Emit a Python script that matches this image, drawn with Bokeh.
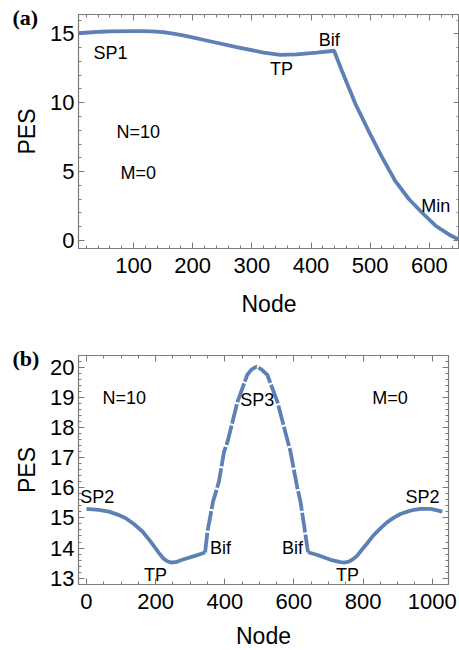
from bokeh.plotting import figure
from bokeh.models import LinearAxis, FixedTicker, Label, Range1d, Title
from bokeh.layouts import column
from bokeh.embed import file_html
from bokeh.resources import INLINE

CURVE = "#5E81B5"
FRAME = "#7a7a7a"
FONT = "Liberation Sans"

# ---------------- Panel (a) data ----------------
a_node = [7, 45, 60, 100, 116, 130, 150, 167, 184, 229, 274, 320, 348, 376, 410, 439,
          452, 475, 497, 520, 542, 565, 587, 610, 633, 651]
a_pes = [15.04, 15.15, 15.17, 15.20, 15.19, 15.17, 15.12, 15.01, 14.88, 14.46, 14.03,
         13.64, 13.47, 13.50, 13.63, 13.77,
         12.34, 9.92, 7.98, 6.05, 4.35, 3.03, 2.05, 1.09, 0.44, 0.04]
a_xticks = [100, 200, 300, 400, 500, 600]
a_yticks = [0, 5, 10, 15]
a_labels = ["SP1", "TP", "Bif", "N=10", "M=0", "Min"]
a_lab_x = [61, 350, 431, 108, 108, 611]
a_lab_y = [13.64, 12.48, 14.55, 7.84, 4.93, 2.47]

# ---------------- Panel (b) data ----------------
b_node_1 = [0, 35, 65, 90, 114, 138, 162, 185, 200, 212, 224, 234, 244, 258, 277,
            316, 343]
b_pes_1 = [15.30, 15.27, 15.21, 15.11, 14.99, 14.79, 14.55, 14.22, 13.99, 13.80,
           13.64, 13.56, 13.52, 13.53, 13.61, 13.75, 13.85]
b_node_2 = [343, 350, 366, 383, 398, 408, 437, 465, 478, 492, 506, 523, 552,
            581, 590, 610, 619, 629, 639, 641]
b_pes_2 = [13.85, 14.55, 15.54, 16.20, 17.20, 17.53, 18.86, 19.75, 19.93, 20.02,
           19.93, 19.75, 18.86, 17.59, 17.20, 15.99, 15.54, 14.77, 14.00, 13.86]
b_node_3 = [641, 668, 706, 735, 747, 759, 771, 783, 797, 812, 830, 851, 870, 889,
            908, 928, 947, 966, 995, 1012, 1029]
b_pes_3 = [13.86, 13.77, 13.61, 13.53, 13.52, 13.55, 13.63, 13.75, 13.95, 14.16,
           14.42, 14.66, 14.86, 15.01, 15.13, 15.21, 15.27, 15.30, 15.30, 15.26, 15.21]
b_xticks = [0, 200, 400, 600, 800, 1000]
b_yticks = [13, 14, 15, 16, 17, 18, 19, 20]
b_labels = ["N=10", "SP3", "M=0", "SP2", "SP2", "Bif", "Bif", "TP", "TP"]
b_lab_x = [109, 494, 878, 31, 972, 388, 596, 200, 755]
b_lab_y = [18.98, 18.90, 18.98, 15.71, 15.71, 14.00, 14.00, 13.10, 13.10]


def style_axis(ax, major, minor, show_labels):
    ax.ticker = FixedTicker(ticks=major, minor_ticks=minor)
    ax.axis_line_color = FRAME
    ax.axis_line_width = 1.2
    ax.major_tick_line_color = FRAME
    ax.minor_tick_line_color = FRAME
    ax.major_tick_in = 6
    ax.major_tick_out = 0
    ax.minor_tick_in = 3
    ax.minor_tick_out = 0
    if show_labels:
        ax.major_label_text_font = FONT
        ax.major_label_text_font_size = "22px"
        ax.major_label_text_color = "black"
        ax.axis_label_text_font = FONT
        ax.axis_label_text_font_size = "23px"
        ax.axis_label_text_font_style = "normal"
        ax.axis_label_text_color = "black"
    else:
        ax.major_label_text_font_size = "0px"
        ax.major_label_text_color = None
        ax.major_label_standoff = 0


def make_panel(xr, yr, fw, fh, bl, br, bt, bb, xmaj, xmin, ymaj, ymin, tag, xlab_so):
    p = figure(frame_width=fw, frame_height=fh,
               x_range=Range1d(*xr), y_range=Range1d(*yr),
               output_backend="svg", toolbar_location=None,
               min_border_left=bl, min_border_right=br,
               min_border_top=bt, min_border_bottom=bb,
               x_axis_label="Node", y_axis_label="PES")
    p.title = Title(text=tag, align="left", offset=-66, standoff=-30,
                    text_font="Liberation Serif", text_font_size="22px",
                    text_font_style="bold", text_color="black")
    p.grid.visible = False
    p.outline_line_color = FRAME
    p.background_fill_color = "white"
    p.border_fill_color = "white"
    style_axis(p.xaxis[0], xmaj, xmin, True)
    style_axis(p.yaxis[0], ymaj, ymin, True)
    p.xaxis[0].major_label_standoff = 9
    p.xaxis[0].axis_label_standoff = xlab_so
    p.yaxis[0].major_label_standoff = 4
    p.yaxis[0].axis_label_standoff = 7
    top = LinearAxis()
    style_axis(top, xmaj, xmin, False)
    p.add_layout(top, "above")
    right = LinearAxis()
    style_axis(right, ymaj, ymin, False)
    p.add_layout(right, "right")
    return p


def add_labels(p, xs, ys, texts):
    for x, y, t in zip(xs, ys, texts):
        p.add_layout(Label(x=x, y=y, text=t, text_font=FONT, text_font_size="18px",
                           text_align="center", text_baseline="middle",
                           text_color="black"))


# Panel (a)
pa = make_panel((7, 651), (-0.58, 16.4), 381, 234, 77, 1, 14, 70,
                a_xticks, list(range(20, 651, 20)),
                a_yticks, list(range(0, 17, 1)), "(a)", 15)
pa.line(a_node, a_pes, line_color=CURVE, line_width=3.8)
add_labels(pa, a_lab_x, a_lab_y, a_labels)

# Panel (b)
pb = make_panel((-23, 1047), (12.79, 20.39), 370, 229, 78, 11, 36, 67,
                b_xticks, list(range(0, 1051, 50)),
                b_yticks, [round(12.8 + 0.2 * i, 1) for i in range(39)], "(b)", 11)
pb.line(b_node_1, b_pes_1, line_color=CURVE, line_width=3.8)
pb.line(b_node_2, b_pes_2, line_color=CURVE, line_width=3.8, line_dash="20 2")
pb.line(b_node_3, b_pes_3, line_color=CURVE, line_width=3.8)
add_labels(pb, b_lab_x, b_lab_y, b_labels)

layout = column(pa, pb, spacing=0)
open("out.html", "w").write(file_html(layout, INLINE))
